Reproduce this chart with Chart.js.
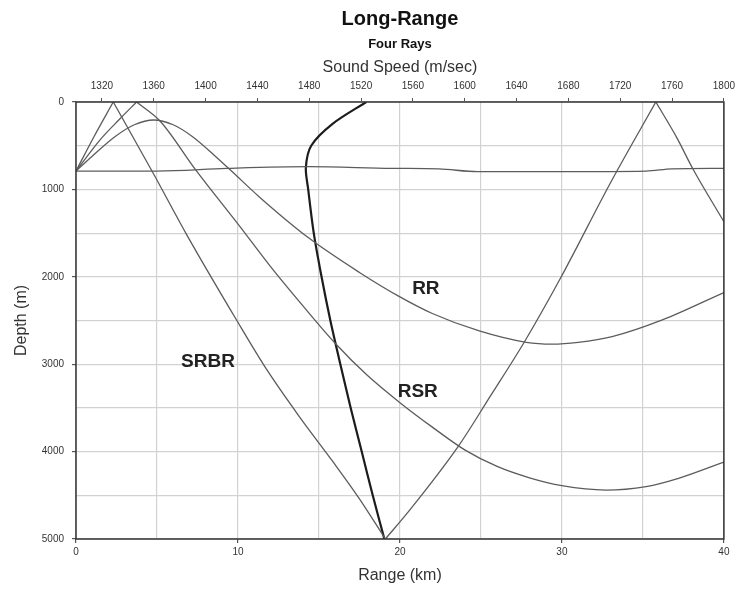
<!DOCTYPE html>
<html>
<head>
<meta charset="utf-8">
<title>Long-Range</title>
<script src="https://cdn.jsdelivr.net/npm/chart.js@4.4.0/dist/chart.umd.min.js"></script>
<style>
  html, body { margin: 0; padding: 0; background: #fff; }
</style>
</head>
<body>
<canvas id="chart" width="741" height="592"></canvas>
<script>
// sound speed profile (top axis) vs depth
const speedValues = [1524, 1498, 1481.5, 1477.4, 1479.2, 1483.5, 1489.5, 1496.3, 1504, 1512, 1520.5, 1529, 1538]
const speedDepth = [0, 250, 500, 750, 1000, 1500, 2000, 2500, 3000, 3500, 4000, 4500, 5000]
const speedTicks = [1320, 1360, 1400, 1440, 1480, 1520, 1560, 1600, 1640, 1680, 1720, 1760, 1800]

// rays: range (km) vs depth (m), split at each reflection
const rrRange = [0, 1, 2.4, 3.6, 4.8, 6, 7.2, 8.6, 9.6, 11.3, 14.4, 17.5, 20, 22, 24.9, 27.8, 29.4, 31, 33.1, 36.2, 40]
const rrDepth = [790, 620, 397, 260, 206, 260, 397, 620, 790, 1083, 1560, 1950, 2230, 2420, 2620, 2750, 2770, 2750, 2685, 2494, 2180]

const rsrRange = [
  [0, 1.5, 2.7, 3.74],
  [3.74, 5.2, 7.4, 10.1, 12, 14, 16, 18, 20, 22, 24, 26, 28, 30, 32.7, 35.2, 37.2, 40]
]
const rsrDepth = [
  [790, 430, 195, 0],
  [0, 220, 780, 1420, 1880, 2330, 2760, 3130, 3440, 3720, 3980, 4170, 4300, 4390, 4440, 4400, 4306, 4120]
]

const srbrRange = [
  [0, 1.1, 2.3],
  [2.3, 4.75, 6.84, 9.92, 11.77, 13.81, 15.84, 17.5, 19.1],
  [19.1, 20.6, 23.6, 25.6, 27.7, 29.9, 33.1, 35.8],
  [35.8, 37.1, 38.1, 40]
]
const srbrDepth = [
  [790, 400, 0],
  [0, 810, 1520, 2497, 3060, 3605, 4110, 4540, 5000],
  [5000, 4670, 3940, 3360, 2740, 2020, 890, 0],
  [0, 410, 770, 1370]
]

const flatRange = [0, 5, 9.3, 14.4, 19.5, 22.4, 24.8, 29.8, 35.2, 36.8, 40]
const flatDepth = [790, 790, 760, 740, 759, 765, 797, 797, 790, 765, 759]

const labelNames = ['RR', 'RSR', 'SRBR']
const labelRange = [21.6, 21.1, 8.15]
const labelDepth = [2132, 3315, 2971]

const FONT = '"Liberation Sans", Arial, Helvetica, sans-serif'
Chart.defaults.font.family = FONT
Chart.defaults.color = '#333'

const toPoints = (xs, ys) => xs.map((x, i) => ({ x, y: ys[i] }))

const rayStyle = {
  borderColor: '#5c5c5c',
  borderWidth: 1.3,
  pointRadius: 0,
  showLine: true,
  cubicInterpolationMode: 'monotone',
  fill: false
}

const datasets = [
  { label: 'RR', data: toPoints(rrRange, rrDepth), ...rayStyle },
  ...rsrRange.map((leg, i) => ({ label: 'RSR', data: toPoints(leg, rsrDepth[i]), ...rayStyle })),
  ...srbrRange.map((leg, i) => ({ label: 'SRBR', data: toPoints(leg, srbrDepth[i]), ...rayStyle })),
  { label: 'Axial', data: toPoints(flatRange, flatDepth), ...rayStyle },
  {
    label: 'Sound Speed',
    xAxisID: 'x2',
    data: toPoints(speedValues, speedDepth),
    borderColor: '#1c1c1c',
    borderWidth: 2.2,
    pointRadius: 0,
    showLine: true,
    tension: 0.3
  }
]

const majorOnly = step => ctx => (ctx.tick.value % step === 0 ? '#555' : 'rgba(0,0,0,0)')

const framePlugin = {
  id: 'frame',
  afterDatasetsDraw(chart) {
    const { ctx, chartArea } = chart
    ctx.save()
    ctx.strokeStyle = '#333'
    ctx.lineWidth = 1.5
    ctx.strokeRect(chartArea.left, chartArea.top, chartArea.width, chartArea.height)
    ctx.restore()
  }
}

const rayLabels = {
  id: 'rayLabels',
  afterDatasetsDraw(chart) {
    const { ctx, scales } = chart
    ctx.save()
    ctx.font = 'bold 19px ' + FONT
    ctx.fillStyle = '#222'
    ctx.textAlign = 'center'
    ctx.textBaseline = 'middle'
    labelNames.forEach((name, i) => {
      ctx.fillText(name, scales.x.getPixelForValue(labelRange[i]), scales.y.getPixelForValue(labelDepth[i]))
    })
    ctx.restore()
  }
}

new Chart(document.getElementById('chart'), {
  type: 'scatter',
  data: { datasets },
  plugins: [framePlugin, rayLabels],
  options: {
    responsive: false,
    animation: false,
    layout: { padding: { left: 0, right: 16, top: 0, bottom: 0 } },
    plugins: {
      legend: { display: false },
      tooltip: { enabled: false },
      title: {
        display: true,
        fullSize: false,
        text: 'Long-Range',
        color: '#111',
        font: { size: 20, weight: 'bold' },
        padding: { top: 7, bottom: 0 }
      },
      subtitle: {
        display: true,
        fullSize: false,
        text: 'Four Rays',
        color: '#111',
        font: { size: 13, weight: 'bold' },
        padding: { top: 6, bottom: 0 }
      }
    },
    scales: {
      x: {
        type: 'linear',
        position: 'bottom',
        min: 0,
        max: 40,
        ticks: {
          stepSize: 5,
          autoSkip: false,
          maxRotation: 0,
          padding: 3,
          font: { size: 10 },
          callback: v => (v % 10 === 0 ? v : '')
        },
        grid: { color: '#d2d2d2', lineWidth: 1.2, tickLength: 4, tickColor: majorOnly(10) },
        border: { display: false },
        title: { display: true, text: 'Range (km)', font: { size: 16 }, padding: { top: 0, bottom: 6.4 } },
        afterFit: s => { s.height = 53 }
      },
      x2: {
        type: 'linear',
        position: 'top',
        min: 1300,
        max: 1800,
        afterBuildTicks: s => { s.ticks = speedTicks.map(value => ({ value })) },
        ticks: {
          autoSkip: false,
          maxRotation: 0,
          padding: 6,
          font: { size: 10 },
          callback: v => v
        },
        grid: { drawOnChartArea: false, tickLength: 4, tickColor: '#555' },
        border: { display: false },
        title: { display: true, text: 'Sound Speed (m/sec)', font: { size: 16 }, padding: { top: 5.8, bottom: 0 } },
        afterFit: s => { s.height = 49.4 }
      },
      y: {
        type: 'linear',
        reverse: true,
        min: 0,
        max: 5000,
        ticks: {
          stepSize: 500,
          autoSkip: false,
          padding: 8,
          font: { size: 10 },
          callback: v => (v % 1000 === 0 ? v : '')
        },
        grid: { color: '#d2d2d2', lineWidth: 1.2, tickLength: 4, tickColor: majorOnly(1000) },
        border: { display: false },
        title: { display: true, text: 'Depth (m)', font: { size: 16 }, padding: { top: 12.4, bottom: 0 } },
        afterFit: s => { s.width = 76 }
      }
    }
  }
})
</script>
</body>
</html>
